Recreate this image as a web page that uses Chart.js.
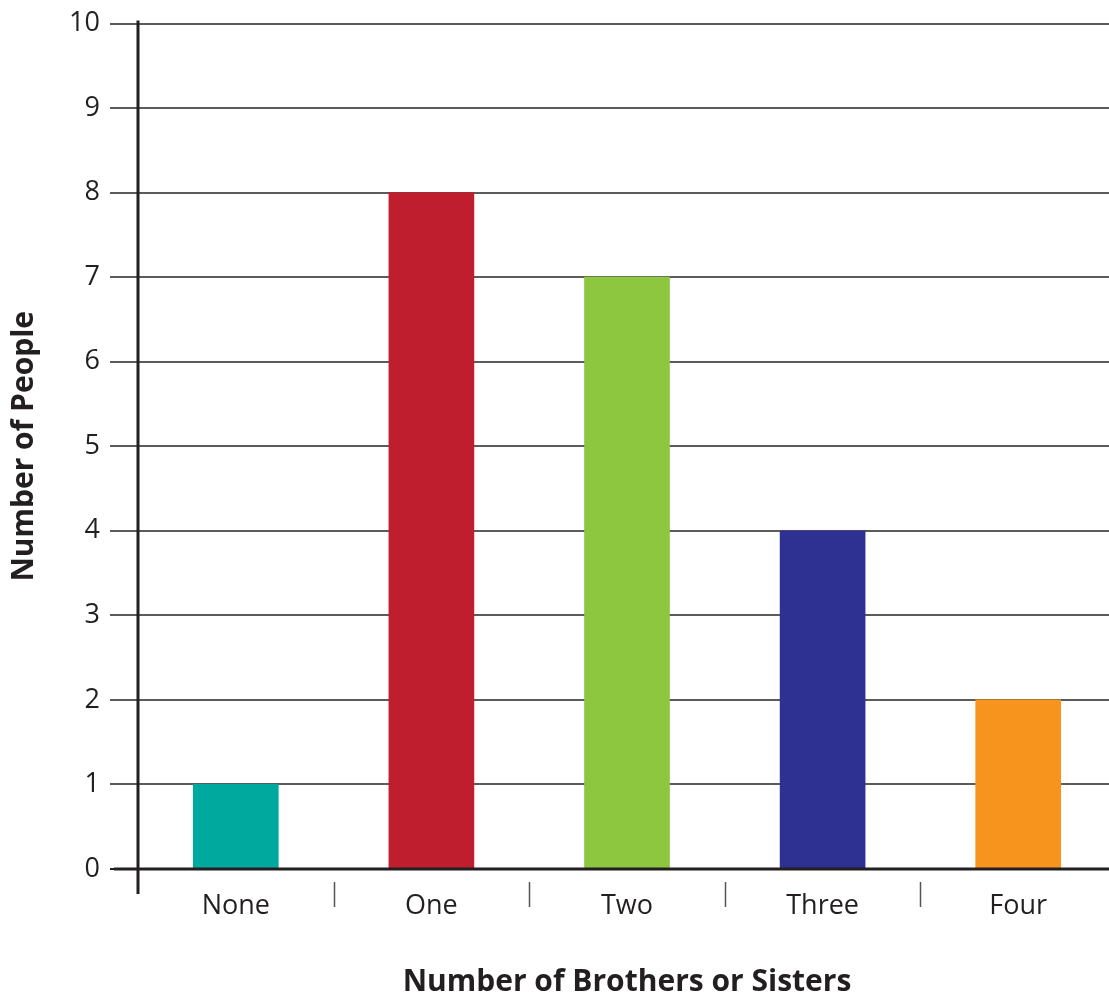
<!DOCTYPE html>
<html>
<head>
<meta charset="utf-8">
<title>Number of Brothers or Sisters</title>
<script src="https://cdn.jsdelivr.net/npm/chart.js@4/dist/chart.umd.min.js"></script>
<style>
  html, body { margin: 0; padding: 0; background: #fff; overflow: hidden; }
  /* чуть шире окна: правый край последней категории уходит за кадр, как в оригинале */
  #wrap { position: relative; width: 1116px; height: 1000px; }
</style>
</head>
<body>
<div id="wrap"><canvas id="chart"></canvas></div>
<script>
// Данные графика
const categories = ['None', 'One', 'Two', 'Three', 'Four'];
const people = [1, 8, 7, 4, 2];
const yMin = 0;
const yMax = 10;
const yStep = 1;

// Цвета столбцов
const barColors = ['#00a99d', '#be1e2d', '#8dc63f', '#2e3192', '#f7941e'];
const INK = '#231f20';
const GRID = '#5b5b5b';

Chart.defaults.font.family = '"Open Sans", sans-serif';
Chart.defaults.color = INK;

// Ось Y с выносом вниз, нулевая линия поверх столбцов и разделители категорий.
const axisDecor = {
  id: 'axisDecor',
  afterDatasetsDraw(chart) {
    const { ctx, chartArea: a, scales: { x, y } } = chart;
    ctx.save();
    const y0 = y.getPixelForValue(0);
    ctx.strokeStyle = INK;
    ctx.lineWidth = 3;
    ctx.beginPath();
    ctx.moveTo(a.left - 24, y0);
    ctx.lineTo(a.right, y0);
    ctx.moveTo(a.left, a.top - 3);
    ctx.lineTo(a.left, a.bottom + 25);
    ctx.stroke();

    ctx.strokeStyle = '#555';
    ctx.lineWidth = 1.5;
    ctx.beginPath();
    for (let i = 0; i < categories.length - 1; i++) {
      const sx = Math.round((x.getPixelForTick(i) + x.getPixelForTick(i + 1)) / 2) + 0.5;
      ctx.moveTo(sx, a.bottom + 13);
      ctx.lineTo(sx, a.bottom + 38);
    }
    ctx.stroke();
    ctx.restore();
  },
};

new Chart(document.getElementById('chart'), {
  type: 'bar',
  data: {
    labels: categories,
    datasets: [{
      label: 'Number of People',
      data: people,
      backgroundColor: barColors,
      borderWidth: 0,
      barThickness: 85,
    }],
  },
  options: {
    responsive: true,
    maintainAspectRatio: false,
    animation: false,
    layout: { padding: { top: 20, left: 0, right: 0, bottom: 0 } },
    plugins: {
      legend: { display: false },
    },
    scales: {
      x: {
        offset: true,
        grid: { display: false },
        border: { display: false },
        ticks: { font: { size: 27 }, color: INK, padding: 13 },
        title: {
          display: true,
          text: 'Number of Brothers or Sisters',
          font: { size: 30, weight: 'bold' },
          color: INK,
          padding: { top: 0, bottom: 0 },
        },
        afterFit(scale) { scale.height = 131; },
      },
      y: {
        min: yMin,
        max: yMax,
        ticks: { stepSize: yStep, font: { size: 27, lineHeight: 1 }, color: INK, padding: 10 },
        grid: {
          color: (c) => (c.tick && c.tick.value === 0 ? INK : GRID),
          lineWidth: 2,
          tickLength: 28,
        },
        border: { display: false },
        title: {
          display: true,
          text: 'Number of People',
          font: { size: 30, weight: 'bold' },
          color: INK,
          padding: { top: 6, bottom: 0 },
        },
        afterFit(scale) { scale.width = 138; },
      },
    },
  },
  plugins: [axisDecor],
});
</script>
</body>
</html>
